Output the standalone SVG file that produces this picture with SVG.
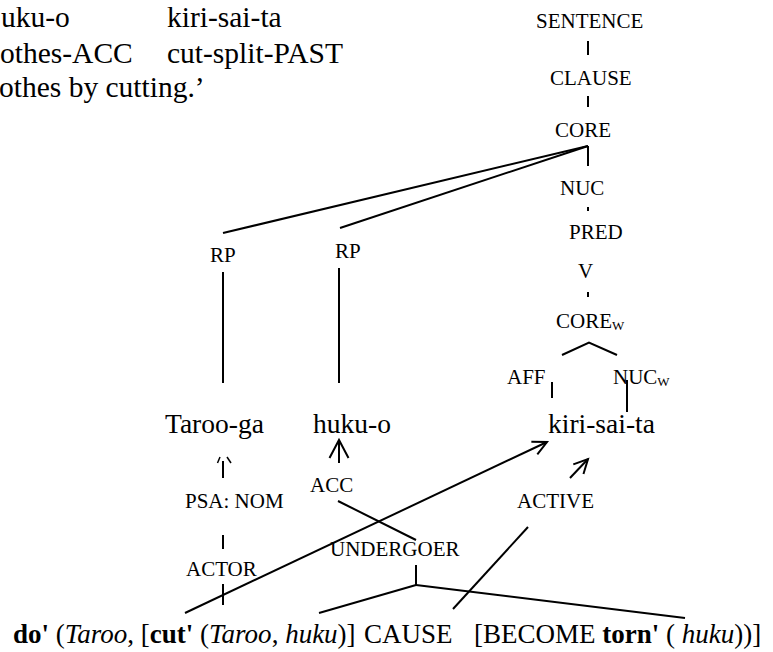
<svg xmlns="http://www.w3.org/2000/svg" width="773" height="652" viewBox="0 0 773 652">
  <defs>
    <style>
      .cat { font-size: 21px; }
      .sub { font-size: 13px; }
      .word { font-size: 27.5px; }
      .gloss { font-size: 29.5px; }
      .sem { font-size: 27px; white-space: pre; }
      .b { font-weight: bold; }
      .i { font-style: italic; }
      .edge { stroke: #000; stroke-width: 2; fill: none; }
      .thin { stroke: #000; stroke-width: 1.5; fill: none; }
      .head { stroke: #000; stroke-width: 2; fill: none; stroke-linejoin: miter; }
    </style>
    <!-- open arrowheads: regular and large -->
    <marker id="arrow" markerUnits="userSpaceOnUse" markerWidth="20" markerHeight="20" viewBox="-16 -10 20 20" refX="0" refY="0" orient="auto">
      <path class="head" d="M -14 -7 L 0 0 L -14 7"/>
    </marker>
    <marker id="arrow-lg" markerUnits="userSpaceOnUse" markerWidth="26" markerHeight="26" viewBox="-22 -13 26 26" refX="0" refY="0" orient="auto">
      <path class="head" d="M -18 -9.5 L 0 0 L -18 9.5"/>
    </marker>
  </defs>

  <rect width="773" height="652" fill="#fff"/>

  <!-- interlinear gloss lines (clipped at the left edge) -->
  <g id="gloss">
    <text font-family="Liberation Serif, serif" class="gloss" x="1" y="27">uku-o</text>
    <text font-family="Liberation Serif, serif" class="gloss" x="167" y="27">kiri-sai-ta</text>
    <text font-family="Liberation Serif, serif" class="gloss" x="0" y="63">othes-ACC</text>
    <text font-family="Liberation Serif, serif" class="gloss" x="167" y="63">cut-split-PAST</text>
    <text font-family="Liberation Serif, serif" class="gloss" x="-1" y="97">othes by cutting.’</text>
  </g>

  <!-- connectors -->
  <g id="connectors">
    <!-- clause tree spine -->
    <line class="edge" x1="588" y1="41" x2="588" y2="55"/>
    <line class="edge" x1="588" y1="96" x2="588" y2="107"/>
    <line class="edge" x1="588" y1="146" x2="588" y2="166"/>
    <line class="edge" x1="588" y1="146" x2="223" y2="233"/>
    <line class="edge" x1="588" y1="146" x2="340" y2="228"/>
    <line class="edge" x1="588" y1="207" x2="588" y2="211"/>
    <line class="edge" x1="588" y1="292" x2="588" y2="297"/>
    <polyline class="edge" points="562,355 589,342.5 617,355"/>
    <line class="edge" x1="552" y1="382" x2="552" y2="398"/>
    <line class="edge" x1="627" y1="380" x2="627" y2="412"/>
    <!-- RP to words -->
    <line class="edge" x1="223" y1="272" x2="223" y2="383"/>
    <line class="edge" x1="339" y1="268" x2="339" y2="383"/>
    <!-- linking from semantic representation -->
    <line class="edge" x1="223" y1="461" x2="223" y2="478"/>
    <line class="thin" x1="220" y1="457" x2="217.5" y2="463"/>
    <line class="thin" x1="227" y1="457" x2="231" y2="463"/>
    <line class="edge" x1="223" y1="535" x2="223" y2="549"/>
    <line class="edge" x1="223" y1="584" x2="223" y2="605"/>
    <line class="edge" x1="339" y1="463" x2="339" y2="440" marker-end="url(#arrow-lg)"/>
    <line class="edge" x1="338" y1="501" x2="416" y2="540"/>
    <line class="edge" x1="185" y1="613" x2="547" y2="442" marker-end="url(#arrow)"/>
    <line class="edge" x1="570" y1="478" x2="588" y2="459" marker-end="url(#arrow)"/>
    <line class="edge" x1="416" y1="565" x2="416" y2="585"/>
    <line class="edge" x1="319" y1="613" x2="416" y2="585"/>
    <line class="edge" x1="416" y1="585" x2="685" y2="618"/>
    <line class="edge" x1="453" y1="609" x2="528" y2="527"/>
  </g>

  <!-- category nodes -->
  <g id="sentence"><text font-family="Liberation Serif, serif" class="cat" x="536" y="28">SENTENCE</text></g>
  <g id="clause"><text font-family="Liberation Serif, serif" class="cat" x="550" y="85">CLAUSE</text></g>
  <g id="core"><text font-family="Liberation Serif, serif" class="cat" x="555" y="137">CORE</text></g>
  <g id="nuc"><text font-family="Liberation Serif, serif" class="cat" x="560" y="195">NUC</text></g>
  <g id="pred"><text font-family="Liberation Serif, serif" class="cat" x="569" y="239">PRED</text></g>
  <g id="v"><text font-family="Liberation Serif, serif" class="cat" x="578" y="278">V</text></g>
  <g id="core-w"><text font-family="Liberation Serif, serif" class="cat" x="556" y="328">CORE<tspan class="sub" dy="1.5">W</tspan></text></g>
  <g id="aff"><text font-family="Liberation Serif, serif" class="cat" x="507" y="384">AFF</text></g>
  <g id="nuc-w"><text font-family="Liberation Serif, serif" class="cat" x="613" y="384">NUC<tspan class="sub" dy="1.5">W</tspan></text></g>
  <g id="rp-1"><text font-family="Liberation Serif, serif" class="cat" x="210" y="262">RP</text></g>
  <g id="rp-2"><text font-family="Liberation Serif, serif" class="cat" x="335" y="258">RP</text></g>

  <!-- words -->
  <g id="taroo-ga"><text font-family="Liberation Serif, serif" class="word" x="165" y="433">Taroo-ga</text></g>
  <g id="huku-o"><text font-family="Liberation Serif, serif" class="word" x="313" y="433">huku-o</text></g>
  <g id="kiri-sai-ta"><text font-family="Liberation Serif, serif" class="word" x="548" y="433">kiri-sai-ta</text></g>

  <!-- linking labels -->
  <g id="psa-nom"><text font-family="Liberation Serif, serif" class="cat" x="185" y="508">PSA: NOM</text></g>
  <g id="actor"><text font-family="Liberation Serif, serif" class="cat" x="186" y="576">ACTOR</text></g>
  <g id="acc"><text font-family="Liberation Serif, serif" class="cat" x="310" y="492">ACC</text></g>
  <g id="undergoer"><text font-family="Liberation Serif, serif" class="cat" x="330" y="556">UNDERGOER</text></g>
  <g id="active"><text font-family="Liberation Serif, serif" class="cat" x="517" y="508">ACTIVE</text></g>

  <!-- logical structure -->
  <g id="logical-structure">
    <text font-family="Liberation Serif, serif" class="sem" x="13" y="643"><tspan class="b">do'</tspan> (<tspan class="i">Taroo</tspan>, [<tspan class="b">cut'</tspan> (<tspan class="i">Taroo</tspan>, <tspan class="i">huku</tspan>)]<tspan x="364">CAUSE</tspan><tspan x="474">[BECOME </tspan><tspan class="b">torn'</tspan> ( <tspan class="i">huku</tspan>))]</text>
  </g>
</svg>
